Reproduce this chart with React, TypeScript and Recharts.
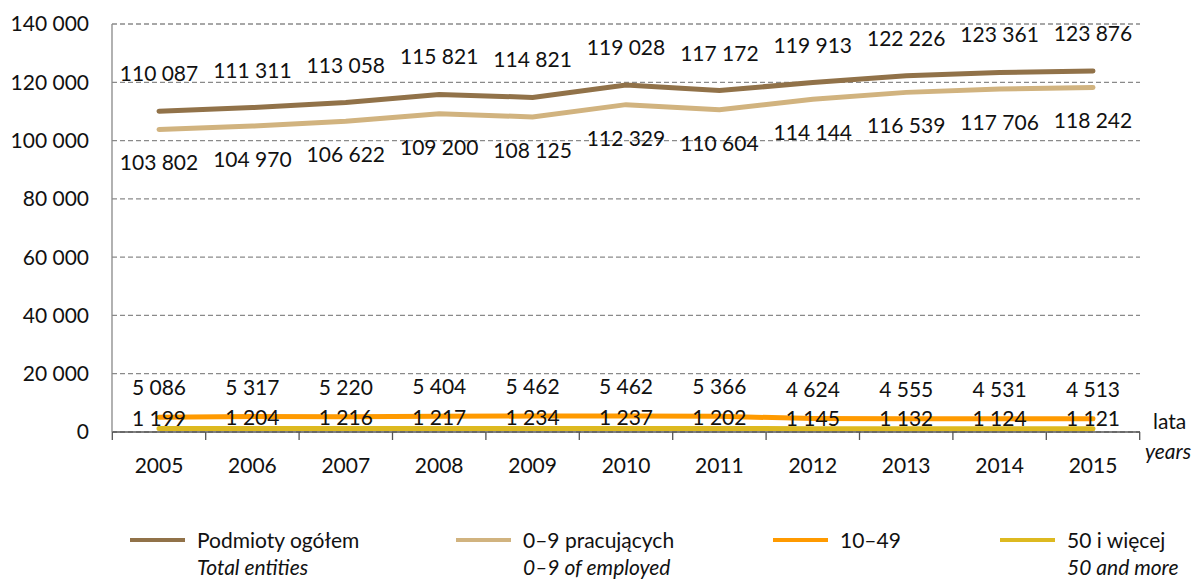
import {
  LineChart,
  Line,
  XAxis,
  YAxis,
  CartesianGrid,
  LabelList,
} from "recharts";

const years = ["2005", "2006", "2007", "2008", "2009", "2010", "2011", "2012", "2013", "2014", "2015"];
const totalEntities = [110087, 111311, 113058, 115821, 114821, 119028, 117172, 119913, 122226, 123361, 123876];
const employed0to9 = [103802, 104970, 106622, 109200, 108125, 112329, 110604, 114144, 116539, 117706, 118242];
const employed10to49 = [5086, 5317, 5220, 5404, 5462, 5462, 5366, 4624, 4555, 4531, 4513];
const employed50plus = [1199, 1204, 1216, 1217, 1234, 1237, 1202, 1145, 1132, 1124, 1121];
const yTicks = [0, 20000, 40000, 60000, 80000, 100000, 120000, 140000];

const data = years.map((year, i) => ({
  year,
  total: totalEntities[i],
  small: employed0to9[i],
  mid: employed10to49[i],
  large: employed50plus[i],
}));

const FONT = "Lato, 'Open Sans', sans-serif";
const X_PAD = 47;
const TICK_GAP = 25;

const fmt = (v: number) => String(v).replace(/\B(?=(\d{3})+(?!\d))/g, " ");

const series = [
  { key: "total", color: "#917249", pl: "Podmioty ogółem", en: "Total entities" },
  { key: "small", color: "#D1B37F", pl: "0–9 pracujących", en: "0–9 of employed" },
  { key: "mid", color: "#FF9A00", pl: "10–49", en: "" },
  { key: "large", color: "#DDB920", pl: "50 i więcej", en: "50 and more" },
];

// legend item slot widths (layout only)
const legendSlots = [326, 317, 227, 200];

const labelStyle = { fontSize: 21, fill: "#111", fontFamily: FONT };

// year label plus the Excel-style tick marks between categories
function YearTick(props: any) {
  const { x, y, payload, index, width, visibleTicksCount } = props;
  const n = visibleTicksCount || years.length;
  const w = typeof width === "number" ? width : 1028;
  const step = (w - 2 * X_PAD) / (n - 1);
  const axisY = y - TICK_GAP;
  return (
    <g>
      <line x1={x - step / 2} x2={x - step / 2} y1={axisY} y2={axisY + 8} stroke="#555" strokeWidth={1.3} />
      {index === n - 1 && (
        <line x1={x + step / 2} x2={x + step / 2} y1={axisY} y2={axisY + 8} stroke="#555" strokeWidth={1.3} />
      )}
      <text x={x} y={y} dy="0.75em" textAnchor="middle" fontSize={21} fill="#111" fontFamily={FONT}>
        {payload.value}
      </text>
    </g>
  );
}

export default function App() {
  return (
    <div
      style={{
        position: "absolute",
        left: 0,
        top: 0,
        width: 1200,
        height: 579,
        background: "#fff",
        fontFamily: FONT,
      }}
    >
      <LineChart
        width={1200}
        height={500}
        data={data}
        margin={{ top: 24, right: 60, bottom: 0, left: 0 }}
      >
        <CartesianGrid
          vertical={false}
          stroke="#8a8a8a"
          strokeDasharray="5 3"
          strokeWidth={1.3}
        />
        <XAxis
          dataKey="year"
          height={68}
          padding={{ left: X_PAD, right: X_PAD }}
          axisLine={{ stroke: "#555", strokeWidth: 1.3 }}
          tickLine={false}
          tickSize={0}
          tickMargin={TICK_GAP}
          tick={<YearTick />}
          interval={0}
        />
        <YAxis
          width={112}
          domain={[0, 140000]}
          ticks={yTicks}
          tickFormatter={fmt}
          axisLine={{ stroke: "#888", strokeWidth: 1.3 }}
          tickLine={false}
          tickSize={6}
          tickMargin={17}
          tick={{ fontSize: 21, fill: "#111", fontFamily: FONT }}
        />
        <Line
          dataKey="total"
          stroke="#917249"
          strokeWidth={5}
          strokeLinecap="round"
          dot={false}
          isAnimationActive={false}
        >
          <LabelList dataKey="total" position="top" offset={30} formatter={fmt} style={labelStyle} />
        </Line>
        <Line
          dataKey="small"
          stroke="#D1B37F"
          strokeWidth={5}
          strokeLinecap="round"
          dot={false}
          isAnimationActive={false}
        >
          <LabelList dataKey="small" position="bottom" offset={26} formatter={fmt} style={labelStyle} />
        </Line>
        <Line
          dataKey="large"
          stroke="#DDB920"
          strokeWidth={5}
          strokeLinecap="round"
          dot={false}
          isAnimationActive={false}
        />
        <Line
          dataKey="mid"
          stroke="#FF9A00"
          strokeWidth={5}
          strokeLinecap="round"
          dot={false}
          isAnimationActive={false}
        >
          <LabelList dataKey="mid" position="top" offset={22} formatter={fmt} style={labelStyle} />
        </Line>
        <Line
          dataKey="large"
          stroke="none"
          dot={false}
          legendType="none"
          isAnimationActive={false}
        >
          <LabelList dataKey="large" position="top" offset={3} formatter={fmt} style={labelStyle} />
        </Line>
      </LineChart>

      <div style={{ position: "absolute", left: 1145, top: 406, fontSize: 21, color: "#111", lineHeight: "30px" }}>
        <div style={{ paddingLeft: 8 }}>lata</div>
        <div style={{ fontStyle: "italic" }}>years</div>
      </div>

      <div
        style={{
          position: "absolute",
          left: 130,
          top: 526,
          display: "flex",
          fontSize: 21,
          color: "#111",
          lineHeight: "27px",
        }}
      >
        {series.map((s, i) => (
          <div key={s.key} style={{ display: "flex", alignItems: "flex-start", width: legendSlots[i] }}>
            <div style={{ width: 55, height: 4, background: s.color, marginTop: 12, marginRight: 12, flexShrink: 0 }} />
            <div style={{ whiteSpace: "nowrap" }}>
              <div>{s.pl}</div>
              {s.en && <div style={{ fontStyle: "italic" }}>{s.en}</div>}
            </div>
          </div>
        ))}
      </div>
    </div>
  );
}
